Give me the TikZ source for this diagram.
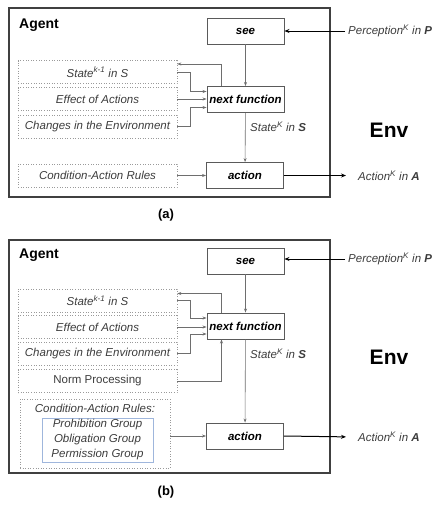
\documentclass[tikz,border=0pt]{standalone}
\usepackage{fontspec}
\setmainfont{Liberation Sans}
\usepackage{xcolor}
\usepackage{tikz}
\usetikzlibrary{arrows.meta}
\definecolor{kframe}{HTML}{404040}
\definecolor{kbox}{HTML}{5a5a5a}
\definecolor{kdot}{HTML}{9a9a9a}
\definecolor{ktext}{HTML}{3c3c3c}
\definecolor{kline}{HTML}{6e6e6e}
\definecolor{kgroup}{HTML}{9fb6dc}

\begin{document}
\begin{tikzpicture}[x=1pt,y=-1pt,
  font=\fontsize{11.5}{13}\selectfont,
  frame/.style={draw=kframe,line width=1.2pt,inner sep=0pt},
  fn/.style={draw=kbox,line width=0.9pt,fill=white,minimum width=77pt,minimum height=26pt,inner sep=1pt,font=\fontsize{11.5}{13}\selectfont\bfseries\itshape},
  src/.style={draw=kdot,dotted,line width=0.6pt,minimum width=159pt,minimum height=23pt,inner sep=1pt,text=ktext,font=\fontsize{11.5}{13}\selectfont\itshape},
  grp/.style={draw=kgroup,line width=0.7pt,align=center,minimum width=111pt,minimum height=44pt,inner sep=1pt,text=ktext,font=\fontsize{11.5}{15}\selectfont\itshape},
  lbl/.style={text=ktext,inner sep=3pt,font=\fontsize{11.5}{13}\selectfont\itshape},
  title/.style={inner sep=0pt,font=\fontsize{14}{16}\selectfont\bfseries},
  env/.style={font=\fontsize{21}{24}\selectfont\bfseries},
  caption/.style={font=\fontsize{13}{15}\selectfont\bfseries},
  arr/.style={-{Stealth[length=4pt,width=3pt]},draw=kline,line width=0.6pt},
  big/.style={-{Stealth[length=5pt,width=4pt]},draw=black,line width=1pt}]
  \useasboundingbox (0,0) rectangle (433,507);
  % (a)
  \node[frame,minimum width=321pt,minimum height=189pt] (agentA) at (169.5,102.5) {};
  \node[title,anchor=base west] (agentlblA) at (19,28) {Agent};
  \node[fn] (seeA) at (245.5,31) {see};
  \node[fn] (nextA) at (245.5,99.5) {next function};
  \node[fn] (actionA) at (245,175.5) {action};
  \node[src] (stateA) at (97.5,72) {State\textsuperscript{k-1} in S};
  \node[src] (effectA) at (97.5,99) {Effect of Actions};
  \node[src] (changesA) at (97.5,126.5) {Changes in the Environment};
  \node[src] (rulesA) at (97.5,175.5) {Condition-Action Rules};
  \node[lbl,anchor=west] (percA) at (345,31) {Perception\textsuperscript{K} in \textbf{P}};
  \node[lbl,anchor=west] (stateKA) at (247,127) {State\textsuperscript{K} in \textbf{S}};
  \node[lbl,anchor=west] (actA) at (355,175.5) {Action\textsuperscript{K} in \textbf{A}};
  \node[env] (envA) at (389,130) {Env};
  \node[caption] (capA) at (166,215) {(a)};
  \draw[arr] ([xshift=-24pt]nextA.north) |- ([yshift=8pt]stateA.east);
  \draw[arr] (stateA.east) -- ++(13,0) |- ([yshift=8pt]nextA.west);
  \draw[arr] (effectA.east) -- (effectA.east -| nextA.west);
  \draw[arr] (changesA.east) -- ++(13,0) |- ([yshift=-8pt]nextA.west);
  \draw[arr] (seeA) -- (nextA);
  \draw[arr] (nextA) -- (actionA);
  \draw[arr] (rulesA) -- (actionA);
  \draw[big] (percA.west) -- (seeA.east);
  \draw[big,shorten >=9pt] (actionA.east) -- (actA.west);
  % (b)
  \node[frame,minimum width=321pt,minimum height=233pt] (agentB) at (169.5,356.5) {};
  \node[title,anchor=base west] (agentlblB) at (19,258) {Agent};
  \node[fn] (seeB) at (245.5,261) {see};
  \node[fn] (nextB) at (245.5,326) {next function};
  \node[fn] (actionB) at (245,436) {action};
  \node[src] (stateB) at (97.5,300.5) {State\textsuperscript{k-1} in S};
  \node[src] (effectB) at (97.5,327) {Effect of Actions};
  \node[src] (changesB) at (97.5,353.5) {Changes in the Environment};
  \node[src,font=\fontsize{11.5}{13}\selectfont] (normB) at (97.5,381) {Norm Processing};
  \node[src,minimum width=150pt,minimum height=69pt] (rulesB) at (95,433.5) {};
  \node[lbl] (rulesttlB) at (95,408) {Condition-Action Rules:};
  \node[grp] (groupsB) at (97.5,440) {Prohibition Group\\Obligation Group\\Permission Group};
  \node[lbl,anchor=west] (percB) at (345,259) {Perception\textsuperscript{K} in \textbf{P}};
  \node[lbl,anchor=west] (stateKB) at (247,354) {State\textsuperscript{K} in \textbf{S}};
  \node[lbl,anchor=west] (actB) at (355,437) {Action\textsuperscript{K} in \textbf{A}};
  \node[env] (envB) at (389,357) {Env};
  \node[caption] (capB) at (166,492) {(b)};
  \draw[arr] ([xshift=-24pt]nextB.north) |- ([yshift=7pt]stateB.east);
  \draw[arr] (stateB.east) -- ++(13,0) |- ([yshift=8pt]nextB.west);
  \draw[arr] (effectB.east) -- (effectB.east -| nextB.west);
  \draw[arr] (changesB.east) -- ++(13,0) |- ([yshift=-8pt]nextB.west);
  \draw[arr] (normB.east) -| ([xshift=-24pt]nextB.south);
  \draw[arr] (seeB) -- (nextB);
  \draw[arr] (nextB) -- (actionB);
  \draw[arr] (rulesB.east |- actionB.west) -- (actionB.west);
  \draw[big] (percB.west) -- (seeB.east |- percB.west);
  \draw[big,shorten >=9pt] (actionB.east) -- (actB.west);
\end{tikzpicture}
\end{document}
